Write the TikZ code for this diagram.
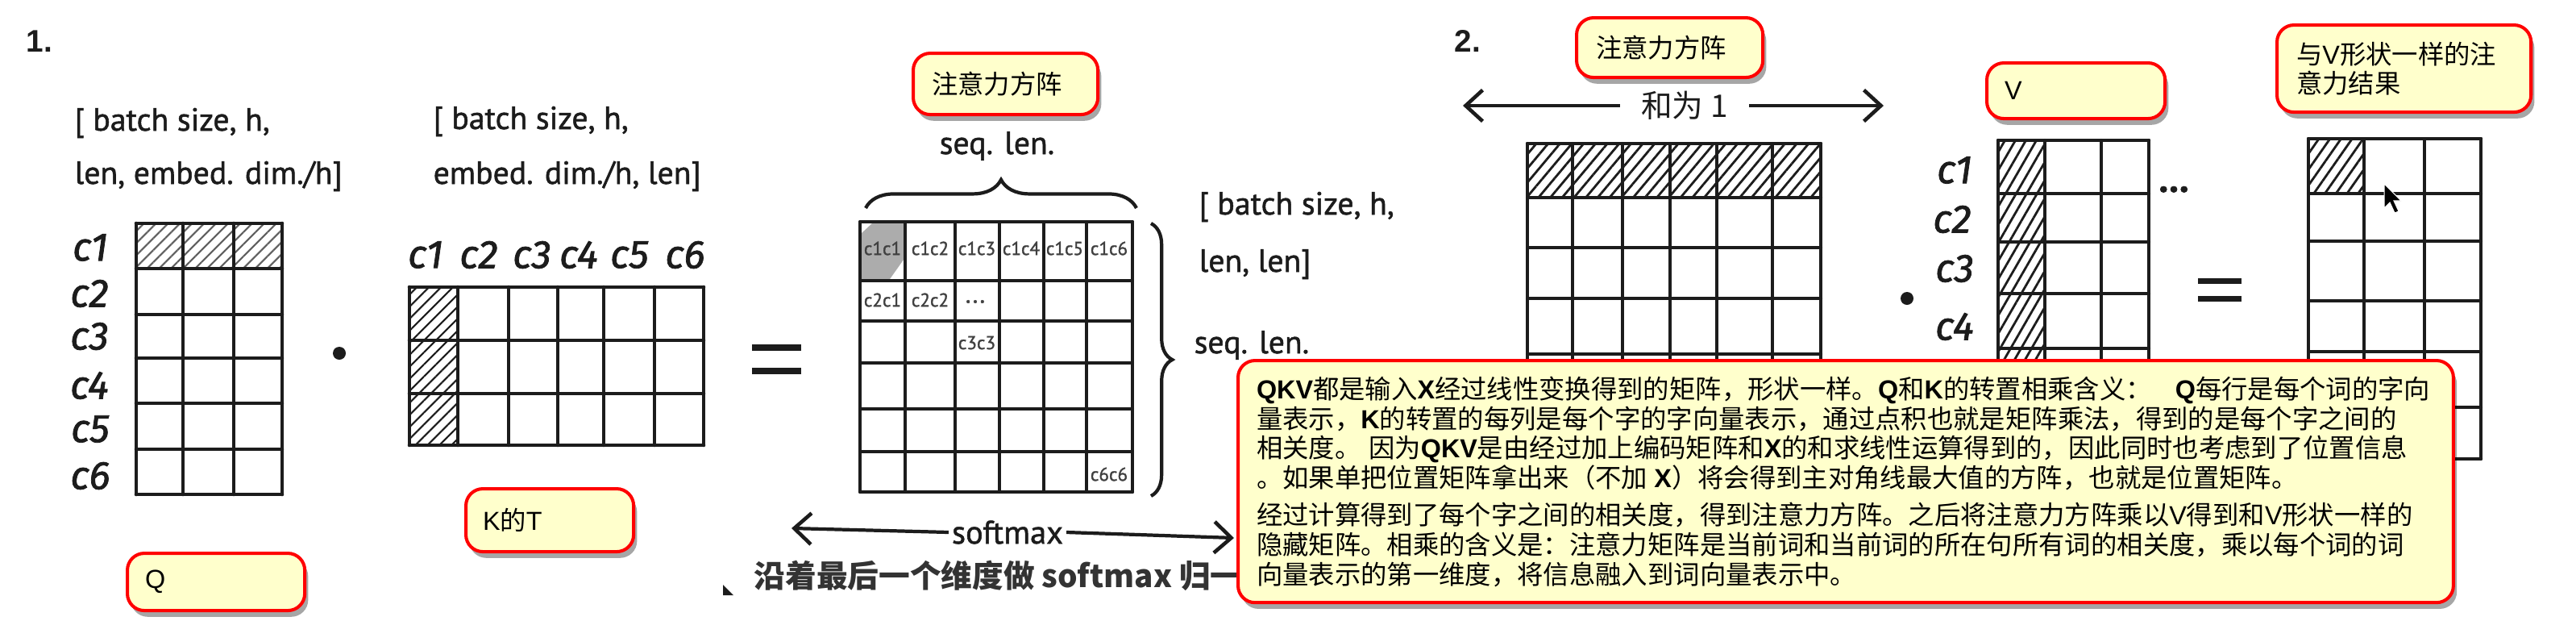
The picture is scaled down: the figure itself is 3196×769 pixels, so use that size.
\documentclass[tikz,border=0pt]{standalone}
\usepackage{fontspec}
\usetikzlibrary{shadows,patterns.meta,decorations.pathreplacing,arrows.meta}
\newfontfamily\cjk{Noto Sans CJK SC}
\newfontfamily\latf{Liberation Sans}
\newfontfamily\scanf[FakeBold=1.3]{PT Sans}
\newfontfamily\handf[FakeBold=1.5]{Fira Sans}
\definecolor{callfill}{HTML}{FFFFCC}
\definecolor{callred}{HTML}{FF0000}
\definecolor{ink}{HTML}{1C1C1C}
\newcommand\lb[1]{{\latf\bfseries #1}}
\newcommand\lr[1]{{\latf #1}}
\begin{document}
\begin{tikzpicture}[x=0.01cm,y=-0.01cm,
  callout/.style={draw=callred, line width=1.15pt, fill=callfill, rounded corners=6pt,
    drop shadow={shadow xshift=1.2pt, shadow yshift=-2.2pt, opacity=0.35, fill=black},
    anchor=north west, align=left, inner ysep=0pt, text=black,
    font=\cjk\fontsize{9.2pt}{10.5pt}\selectfont},
  scan/.style={font=\scanf\fontsize{11.3pt}{13pt}\selectfont, text=ink, inner sep=0pt},
  hand/.style={font=\handf\itshape\fontsize{14pt}{16pt}\selectfont, text=ink, inner sep=0pt},
  cell/.style={font=\scanf\fontsize{6.6pt}{7pt}\selectfont, text=black!75, inner sep=0pt},
  gridl/.style={line width=1.3pt, draw=ink, line cap=round},
  hatch/.style={pattern={Lines[angle=45,distance=3pt,line width=0.6pt]}, pattern color=ink},
  arr/.style={line width=1.2pt, draw=ink, -{Straight Barb[length=6pt,width=11pt,line width=1.3pt]}},
  dotmark/.style={fill=ink},
  numlab/.style={font=\latf\bfseries\fontsize{11pt}{12pt}\selectfont, text=ink, inner sep=0pt, anchor=west}
]
\useasboundingbox (0,0) rectangle (3196,769);
\fill[white] (0,0) rectangle (3196,769);

% ---------- section 1 ----------
\node[numlab] (one) at (32,51) {1.};

% Q matrix
\node[scan, anchor=base west] (qdim1) at (92,162) {[ batch size, h,};
\node[scan, anchor=base west] (qdim2) at (92,228) {len, embed. dim./h]};
\fill[hatch, pattern color=ink!70] (169,277) rectangle (350,333);
\foreach \x in {169,227,290,350} \draw[gridl] (\x,277) -- (\x,613);
\foreach \y in {277,333,390,444,500,557,613} \draw[gridl] (169,\y) -- (350,\y);
\node[hand] (qc1) at (112,307) {c1};
\node[hand] (qc2) at (111,364) {c2};
\node[hand] (qc3) at (111,417) {c3};
\node[hand] (qc4) at (111,478) {c4};
\node[hand] (qc5) at (112,532) {c5};
\node[hand] (qc6) at (112,590) {c6};
\fill[dotmark] (421,438) circle[radius=0.08cm];

% K transpose
\node[scan, anchor=base west] (kdim1) at (537,160) {[ batch size, h,};
\node[scan, anchor=base west] (kdim2) at (537,228) {embed. dim./h, len]};
\node[hand] (kc1) at (528,316) {c1};
\node[hand] (kc2) at (594,316) {c2};
\node[hand] (kc3) at (660,316) {c3};
\node[hand] (kc4) at (718,316) {c4};
\node[hand] (kc5) at (781,316) {c5};
\node[hand] (kc6) at (850,316) {c6};
\fill[hatch] (508,356) rectangle (568,552);
\foreach \x in {508,568,631,692,749,812,873} \draw[gridl] (\x,356) -- (\x,552);
\foreach \y in {356,422,488,552} \draw[gridl] (508,\y) -- (873,\y);

% equals
\fill[ink] (933,427) rectangle (994,435);
\fill[ink] (933,456) rectangle (994,464);

% attention matrix 1
\node[scan, anchor=base] (seqtop) at (1237,191) {seq. len.};
\draw[line width=1.2pt, ink, decorate, decoration={brace, amplitude=10pt}] (1074,258) -- (1410,258);
\fill[gray!65] (1069,289) -- (1082,277) -- (1121,277) -- (1121,322) -- (1104,346) -- (1069,346) -- cycle;
\foreach \x in {1067,1123,1185,1240,1295,1348,1405} \draw[gridl, line width=1.15pt] (\x,275) -- (\x,610);
\foreach \y in {275,348,398,450,507,560,610} \draw[gridl, line width=1.15pt] (1067,\y) -- (1405,\y);
\node[cell] (c11) at (1095,308) {c1c1};
\node[cell] (c12) at (1154,308) {c1c2};
\node[cell] (c13) at (1212,308) {c1c3};
\node[cell] (c14) at (1267,308) {c1c4};
\node[cell] (c15) at (1321,308) {c1c5};
\node[cell] (c16) at (1376,308) {c1c6};
\node[cell] (c21) at (1095,372) {c2c1};
\node[cell] (c22) at (1154,372) {c2c2};
\node[cell, font=\scanf\fontsize{9pt}{9pt}\selectfont] (cdots) at (1210,374) {...};
\node[cell] (c33) at (1212,425) {c3c3};
\node[cell] (c66) at (1376,588) {c6c6};
\draw[line width=1.2pt, ink, decorate, decoration={brace, amplitude=7.5pt}] (1428,277) -- (1428,615);
\node[scan, anchor=base west] (adim1) at (1487,266) {[ batch size, h,};
\node[scan, anchor=base west] (adim2) at (1487,337) {len, len]};
\node[scan, anchor=base west] (seqright) at (1481,438) {seq. len.};

% softmax arrow
\node[scan, font=\scanf\fontsize{11.5pt}{13pt}\selectfont, inner xsep=1pt] (softmax) at (1250,660) {softmax};
\coordinate (smL) at (982,655);
\coordinate (smR) at (1531,667);
\draw[arr] (softmax.west) -- (smL);
\draw[arr] (softmax.east) -- (smR);
\node[font=\cjk\bfseries\fontsize{11pt}{12pt}\selectfont, text=ink!90, anchor=west, inner sep=0pt] (normtext) at (935,714) {沿着最后一个维度做 softmax 归一};
\fill[ink] (897,725) -- (897,738) -- (910,738) -- cycle;

% ---------- section 2 ----------
\node[numlab] (two) at (1804,51) {2.};
\node[font=\cjk\fontsize{11pt}{12pt}\selectfont, text=ink, inner xsep=0.26cm, inner ysep=0pt] (sum1) at (2090,131) {和为 1};
\coordinate (sumL) at (1815,131);
\coordinate (sumR) at (2337,131);
\draw[arr] (sum1.west) -- (sumL);
\draw[arr] (sum1.east) -- (sumR);

% attention matrix 2
\fill[hatch, pattern={Lines[angle=50,distance=3.2pt,line width=0.8pt]}] (1895,178) rectangle (2259,245);
\foreach \x in {1895,1951,2013,2072,2130,2199,2259} \draw[gridl, line width=1.2pt] (\x,178) -- (\x,570);
\foreach \y in {178,245,307,370,439,505,570} \draw[gridl, line width=1.2pt] (1895,\y) -- (2259,\y);
\fill[dotmark] (2366,370) circle[radius=0.08cm];

% V matrix
\node[hand] (vc1) at (2425,211) {c1};
\node[hand] (vc2) at (2422,272) {c2};
\node[hand] (vc3) at (2425,333) {c3};
\node[hand] (vc4) at (2425,405) {c4};
\fill[hatch, pattern={Lines[angle=60,distance=3.2pt,line width=0.8pt]}] (2479,174) rectangle (2537,570);
\foreach \x in {2479,2537,2607,2666} \draw[gridl, line width=1.2pt] (\x,174) -- (\x,570);
\foreach \y in {174,240,300,364,432,500,570} \draw[gridl, line width=1.2pt] (2479,\y) -- (2666,\y);
\node[scan, font=\scanf\bfseries\fontsize{14pt}{14pt}\selectfont, anchor=base] (vdots) at (2697,238) {...};
\fill[ink] (2727,345) rectangle (2781,352);
\fill[ink] (2727,367) rectangle (2781,374);

% result matrix
\fill[hatch, pattern={Lines[angle=55,distance=3.2pt,line width=0.8pt]}] (2864,172) rectangle (2933,240);
\foreach \x in {2864,2933,3008,3078} \draw[gridl, line width=1.2pt] (\x,172) -- (\x,569);
\foreach \y in {172,240,299,373,436,505,569} \draw[gridl, line width=1.2pt] (2864,\y) -- (3078,\y);
\filldraw[black, draw=white, line width=0.3pt] (2958,228) -- (2958,258) -- (2965,251) -- (2971,264) -- (2976,262) -- (2970,249) -- (2979,249) -- cycle;

% ---------- callouts ----------
\node[callout, minimum width=2.2cm, minimum height=0.71cm, inner xsep=0.22cm, text width=1.76cm] (calQ) at (156,684) {\lr{Q}};
\node[callout, minimum width=2.08cm, minimum height=0.78cm, inner xsep=0.21cm, text width=1.66cm] (calKT) at (576,604) {\lr{K}的\lr{T}};
\node[callout, minimum width=2.29cm, minimum height=0.76cm, inner xsep=0.23cm, text width=1.83cm] (calA1) at (1131,64) {注意力方阵};
\node[callout, minimum width=2.31cm, minimum height=0.74cm, inner xsep=0.24cm, text width=1.83cm] (calA2) at (1954,20) {注意力方阵};
\node[callout, minimum width=2.21cm, minimum height=0.69cm, inner xsep=0.22cm, text width=1.77cm] (calV) at (2463,76) {\lr{V}};
\node[callout, minimum width=3.15cm, minimum height=1.08cm, inner xsep=0.24cm, text width=2.67cm,
  font=\cjk\fontsize{9.2pt}{10.25pt}\selectfont] (calRes) at (2823,29) {\mbox{与\lr{V}形状一样的注}\\\mbox{意力结果}};
\node[callout, minimum width=15.07cm, minimum height=3.0cm, inner xsep=0.23cm, text width=14.61cm] (calBig) at (1534,445) {%
\mbox{\lb{QKV}都是输入\lb{X}经过线性变换得到的矩阵，形状一样。\lb{Q}和\lb{K}的转置相乘含义：\hspace{0.9em}\lb{Q}每行是每个词的字向}\\
\mbox{量表示，\lb{K}的转置的每列是每个字的字向量表示，通过点积也就是矩阵乘法，得到的是每个字之间的}\\
\mbox{相关度。\hspace{0.3em}因为\lb{QKV}是由经过加上编码矩阵和\lb{X}的和求线性运算得到的，因此同时也考虑到了位置信息}\\
\mbox{。如果单把位置矩阵拿出来（不加\hspace{0.25em}\lb{X}）将会得到主对角线最大值的方阵，也就是位置矩阵。}\\[2.4pt]
\mbox{经过计算得到了每个字之间的相关度，得到注意力方阵。之后将注意力方阵乘以\lr{V}得到和\lr{V}形状一样的}\\
\mbox{隐藏矩阵。相乘的含义是：注意力矩阵是当前词和当前词的所在句所有词的相关度，乘以每个词的词}\\
\mbox{向量表示的第一维度，将信息融入到词向量表示中。}};
\end{tikzpicture}
\end{document}
